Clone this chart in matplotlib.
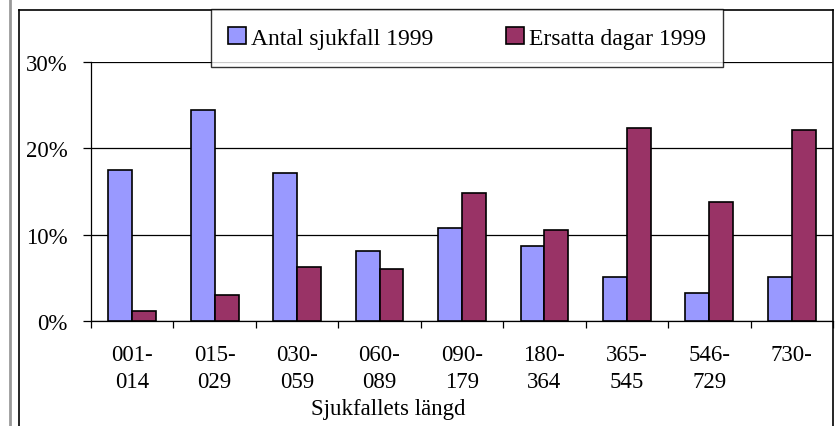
import matplotlib
matplotlib.use("Agg")
import matplotlib.pyplot as plt
from matplotlib.ticker import FuncFormatter
from matplotlib.lines import Line2D
import numpy as np

# ---------------- Dados ----------------
kategorier = ["001-\n014", "015-\n029", "030-\n059", "060-\n089", "090-\n179",
              "180-\n364", "365-\n545", "546-\n729", "730-"]
antal_sjukfall = [17.5, 24.4, 17.1, 8.1, 10.8, 8.75, 5.1, 3.25, 5.1]
ersatta_dagar = [1.15, 3.05, 6.25, 6.0, 14.8, 10.6, 22.4, 13.85, 22.1]
serie_namn = ["Antal sjukfall 1999", "Ersatta dagar 1999"]

plt.rcParams["font.family"] = ["Liberation Serif", "DejaVu Serif"]

W, H = 835, 427
fig = plt.figure(figsize=(W / 100, H / 100), dpi=100)

def fx(px):
    return px / W

def fy(py):
    return 1 - py / H

ax = fig.add_axes([fx(91), fy(322.3), fx(833) - fx(91), fy(63) - fy(322.3)])

x = np.arange(len(kategorier))
bredd = 0.29
b1 = ax.bar(x - bredd / 2, antal_sjukfall, bredd, color="#9999FF",
            edgecolor="black", linewidth=1.2, zorder=3, label=serie_namn[0])
b2 = ax.bar(x + bredd / 2, ersatta_dagar, bredd, color="#993366",
            edgecolor="black", linewidth=1.2, zorder=3, label=serie_namn[1])

ax.set_xlim(-0.5, len(kategorier) - 0.5)
ax.set_ylim(0, 30)
ax.set_yticks([0, 10, 20, 30])
ax.yaxis.set_major_formatter(FuncFormatter(lambda v, p: f"{v:.0f}%"))
ax.yaxis.grid(True, color="black", linewidth=0.9, zorder=0)

ax.set_xticks(x)
ax.set_xticklabels(kategorier, linespacing=1.4)
ax.set_xticks(np.arange(-0.5, len(kategorier)), minor=True)
ax.tick_params(axis="x", which="major", length=0, pad=16, labelsize=16.5)
ax.tick_params(axis="x", which="minor", length=5, width=0.9, direction="out")
ax.tick_params(axis="y", length=6, width=0.9, direction="out", labelsize=16.5, pad=11)

for s in ["top", "right"]:
    ax.spines[s].set_visible(False)
ax.spines["left"].set_linewidth(0.9)
ax.spines["bottom"].set_linewidth(0.9)

ax.set_xlabel("Sjukfallets längd", fontsize=16.5)
ax.xaxis.set_label_coords((388 - 91) / 742, -0.335)
ax.xaxis.label.set_va("center")

# ram runt diagrammet
fig.add_artist(Line2D([fx(19), fx(19)], [fy(11), 0], color="black", lw=1.2))
fig.add_artist(Line2D([fx(19), fx(833)], [fy(11), fy(11)], color="black", lw=1.2))
fig.add_artist(Line2D([fx(833), fx(833)], [fy(11), 0], color="black", lw=1.2))
fig.add_artist(Line2D([fx(10), fx(10)], [1, 0], color="#999999", lw=2))

leg = fig.legend(handles=[b1, b2], loc="center", ncol=2,
                 bbox_to_anchor=(fx(467), fy(39)), fontsize=17,
                 frameon=True, fancybox=False, edgecolor="black",
                 handlelength=0.75, handleheight=0.75, handletextpad=0.2,
                 columnspacing=3.1, borderpad=0.75, borderaxespad=0)
leg.get_frame().set_linewidth(1.0)

fig.savefig("out.png", dpi=100)
